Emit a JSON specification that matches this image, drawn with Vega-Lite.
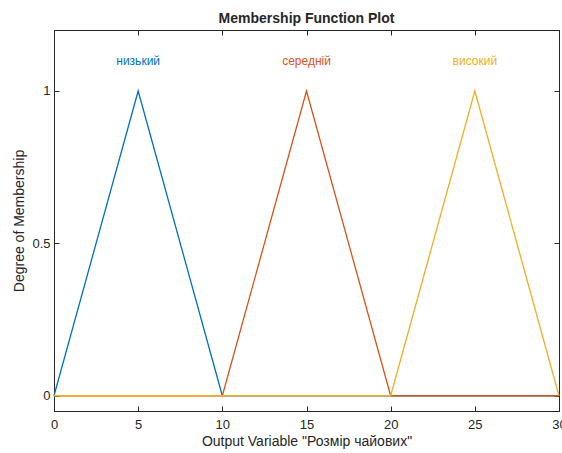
{
  "$schema": "https://vega.github.io/schema/vega-lite/v6.json",
  "width": 505,
  "height": 381,
  "autosize": {"type": "none"},
  "padding": {"left": 54, "top": 30, "right": 3, "bottom": 42},
  "title": {"text": "Membership Function Plot", "fontSize": 14, "fontWeight": "bold", "font": "Liberation Sans", "color": "#262626", "offset": 4},
  "datasets": {
    "mf": [
      {"mf": "низький", "x": 0, "y": 0}, {"mf": "низький", "x": 5, "y": 1}, {"mf": "низький", "x": 10, "y": 0}, {"mf": "низький", "x": 30, "y": 0},
      {"mf": "середній", "x": 0, "y": 0}, {"mf": "середній", "x": 10, "y": 0}, {"mf": "середній", "x": 15, "y": 1}, {"mf": "середній", "x": 20, "y": 0}, {"mf": "середній", "x": 30, "y": 0},
      {"mf": "високий", "x": 0, "y": 0}, {"mf": "високий", "x": 20, "y": 0}, {"mf": "високий", "x": 25, "y": 1}, {"mf": "високий", "x": 30, "y": 0}
    ],
    "labels": [
      {"mf": "низький", "x": 5, "y": 1.1},
      {"mf": "середній", "x": 15, "y": 1.1},
      {"mf": "високий", "x": 25, "y": 1.1}
    ]
  },
  "config": {
    "view": {"stroke": "#262626", "strokeWidth": 1},
    "axis": {"grid": false, "domainColor": "#262626", "tickColor": "#262626", "labelColor": "#262626", "titleColor": "#262626", "labelFont": "Liberation Sans", "titleFont": "Liberation Sans", "labelFontSize": 13, "titleFontSize": 14, "titleFontWeight": "normal", "tickSize": -5, "labelFlush": false, "labelOverlap": false}
  },
  "resolve": {"axis": {"x": "independent", "y": "independent"}},
  "layer": [
    {
      "data": {"name": "mf"},
      "transform": [{"filter": "datum.mf === 'низький'"}],
      "mark": {"type": "line", "color": "#0072BD", "strokeWidth": 1.3},
      "encoding": {
        "x": {"field": "x", "type": "quantitative", "scale": {"domain": [0, 30], "nice": false}, "axis": {"values": [0, 5, 10, 15, 20, 25, 30], "title": "Output Variable \"Розмір чайових\"", "titlePadding": 3, "labelPadding": 12}},
        "y": {"field": "y", "type": "quantitative", "scale": {"domain": [-0.05, 1.2], "nice": false, "zero": false}, "axis": {"values": [0, 0.5, 1], "format": "~g", "title": "Degree of Membership", "titlePadding": 5, "labelPadding": 9}}
      }
    },
    {
      "data": {"name": "mf"},
      "transform": [{"filter": "datum.mf === 'середній'"}],
      "mark": {"type": "line", "color": "#D95319", "strokeWidth": 1.3},
      "encoding": {
        "x": {"field": "x", "type": "quantitative", "axis": {"orient": "top", "values": [0, 5, 10, 15, 20, 25, 30], "labels": false, "title": null}},
        "y": {"field": "y", "type": "quantitative", "axis": {"orient": "right", "values": [0, 0.5, 1], "labels": false, "title": null}}
      }
    },
    {
      "data": {"name": "mf"},
      "transform": [{"filter": "datum.mf === 'високий'"}],
      "mark": {"type": "line", "color": "#EDB120", "strokeWidth": 1.3},
      "encoding": {
        "x": {"field": "x", "type": "quantitative", "axis": null},
        "y": {"field": "y", "type": "quantitative", "axis": null}
      }
    },
    {
      "data": {"name": "labels"},
      "mark": {"type": "text", "font": "Liberation Sans", "fontSize": 12, "baseline": "middle", "dy": 1},
      "encoding": {
        "x": {"field": "x", "type": "quantitative", "axis": null},
        "y": {"field": "y", "type": "quantitative", "axis": null},
        "text": {"field": "mf"},
        "color": {"field": "mf", "type": "nominal", "scale": {"domain": ["низький", "середній", "високий"], "range": ["#0072BD", "#D95319", "#EDB120"]}, "legend": null}
      }
    }
  ]
}
